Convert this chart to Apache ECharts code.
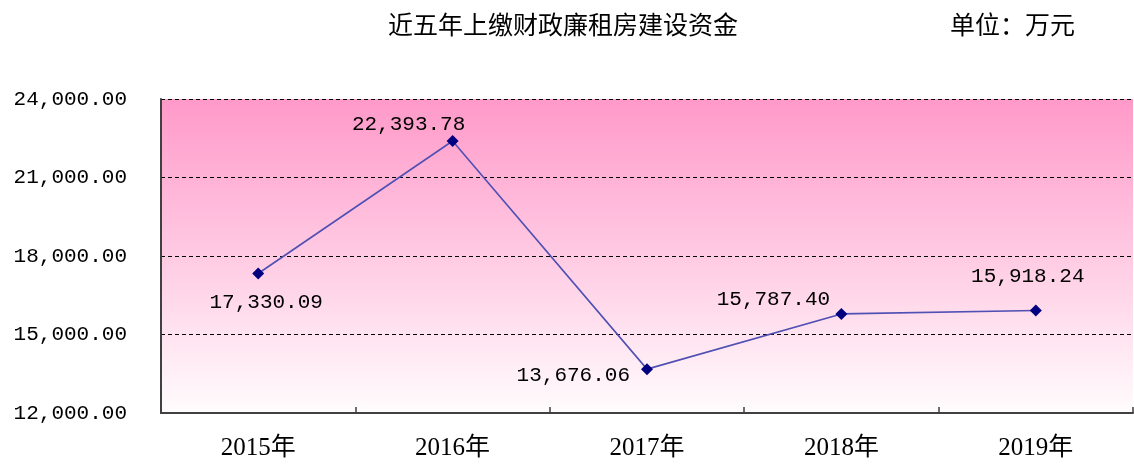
<!DOCTYPE html>
<html>
<head>
<meta charset="utf-8">
<script src="https://cdn.jsdelivr.net/npm/echarts@6/dist/echarts.min.js"></script>
<style>
  html, body { margin: 0; padding: 0; background: #fff; }
  #chart { width: 1134px; height: 466px; }
</style>
</head>
<body>
<div id="chart"></div>
<script>
// data
const years = ['2015年', '2016年', '2017年', '2018年', '2019年']
const funds = [17330.09, 22393.78, 13676.06, 15787.40, 15918.24]
// where each value label sits relative to its point
const labelPos = [
  { position: 'bottom', offset: [8, 7] },
  { position: 'top', offset: [-44, 5] },
  { position: 'left', offset: [-6, 6] },
  { position: 'top', offset: [-68, 7] },
  { position: 'top', offset: [-8, -13] }
]

const numFont = '"Liberation Mono", monospace'
const cjkFont = '"Noto Sans CJK SC", sans-serif'

const fmt = (v) => v.toLocaleString('en-US', { minimumFractionDigits: 2, maximumFractionDigits: 2 })

const chart = echarts.init(document.getElementById('chart'))

chart.setOption({
  animation: false,
  title: [
    {
      text: '近五年上缴财政廉租房建设资金',
      left: 383, top: 7,
      textStyle: { fontFamily: cjkFont, fontSize: 25, fontWeight: 'normal', color: '#000' }
    },
    {
      text: '单位：万元',
      left: 945, top: 7,
      textStyle: { fontFamily: cjkFont, fontSize: 25, fontWeight: 'normal', color: '#000' }
    }
  ],
  grid: {
    left: 161, right: 1, top: 99, bottom: 53,
    show: true,
    borderWidth: 0,
    backgroundColor: new echarts.graphic.LinearGradient(0, 0, 0, 1, [
      { offset: 0, color: '#ff99c9' },
      { offset: 1, color: '#fffcfd' }
    ])
  },
  xAxis: {
    type: 'category',
    data: years,
    boundaryGap: true,
    axisLine: { lineStyle: { color: '#404040', width: 2 } },
    axisTick: { show: true, inside: true, length: 6, alignWithLabel: false, lineStyle: { color: '#404040', width: 1.5 } },
    axisLabel: { fontFamily: '"Liberation Serif", ' + cjkFont, fontSize: 25, color: '#000', margin: 23 }
  },
  yAxis: {
    type: 'value',
    min: 12000, max: 24000, interval: 3000,
    axisLine: { show: true, lineStyle: { color: '#404040', width: 2 } },
    axisTick: { show: false },
    axisLabel: { fontFamily: numFont, fontSize: 21, color: '#000', margin: 34, formatter: (v) => fmt(v) },
    splitLine: { lineStyle: { color: '#000', type: [4, 3], width: 1 } }
  },
  series: [{
    type: 'line',
    data: funds.map((v, i) => ({ value: v, label: labelPos[i] })),
    symbol: 'diamond',
    symbolSize: 12,
    lineStyle: { color: '#5050b4', width: 1.6 },
    itemStyle: { color: '#000080' },
    label: {
      show: true,
      fontFamily: numFont,
      fontSize: 21,
      color: '#000',
      formatter: (p) => fmt(p.value)
    }
  }]
})
</script>
</body>
</html>
